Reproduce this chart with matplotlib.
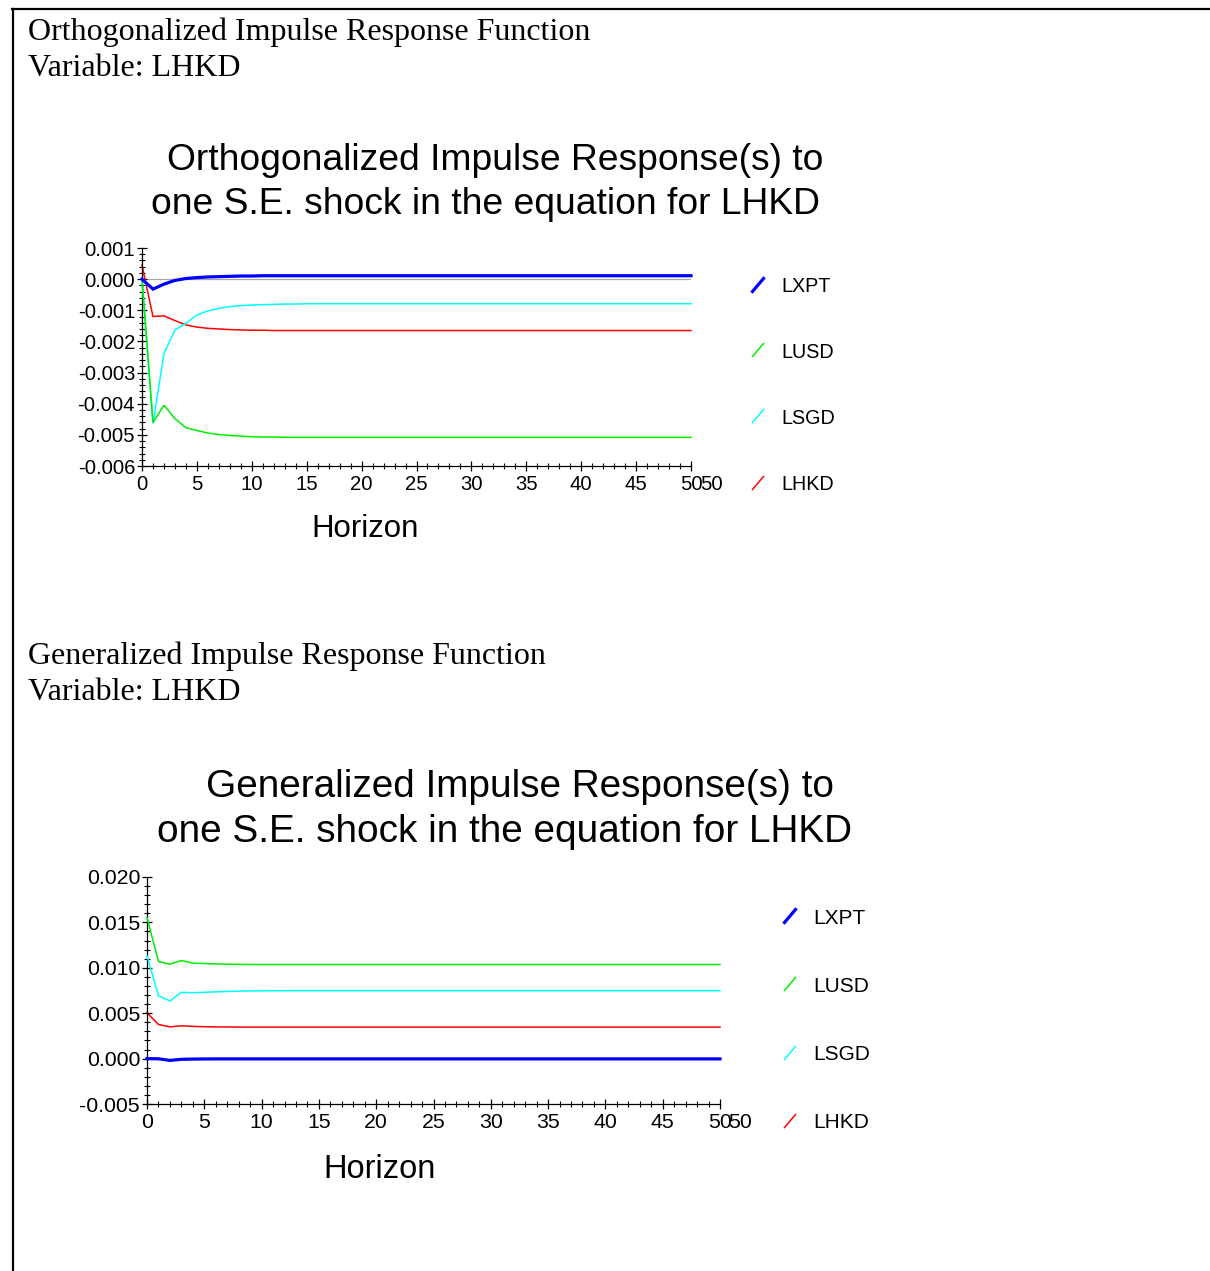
import matplotlib
matplotlib.use("Agg")
import matplotlib.pyplot as plt
from matplotlib.ticker import MultipleLocator, FormatStrFormatter
from matplotlib.lines import Line2D
from matplotlib.transforms import offset_copy

# ---------------------------------------------------------------- data
horizon = list(range(51))
series_names = ["LXPT", "LUSD", "LSGD", "LHKD"]
series_colors = ["#0000ff", "#00ee00", "#00ffff", "#ff0000"]
series_widths = [2.3, 1.1, 1.1, 1.1]

orth_lxpt = [0.0, -0.00032, -0.00016, -0.00004, 0.00002, 0.00005, 0.00007, 0.00008, 0.00009, 0.00010,
             0.00010, 0.00011, 0.00011, 0.00011, 0.00011, 0.00011, 0.00011, 0.00011, 0.00011, 0.00011,
             0.00011, 0.00011, 0.00011, 0.00011, 0.00011, 0.00011, 0.00011, 0.00011, 0.00011, 0.00011,
             0.00011, 0.00011, 0.00011, 0.00011, 0.00011, 0.00011, 0.00011, 0.00011, 0.00011, 0.00011,
             0.00011, 0.00011, 0.00011, 0.00011, 0.00011, 0.00011, 0.00011, 0.00011, 0.00011, 0.00011,
             0.00011]
orth_lusd = [0.0, -0.00460, -0.00405, -0.00448, -0.00477, -0.00486, -0.00494, -0.00499, -0.00502, -0.00504,
             -0.00506, -0.00507, -0.00507, -0.00508, -0.00508, -0.00508, -0.00508, -0.00508, -0.00508, -0.00508,
             -0.00508, -0.00508, -0.00508, -0.00508, -0.00508, -0.00508, -0.00508, -0.00508, -0.00508, -0.00508,
             -0.00508, -0.00508, -0.00508, -0.00508, -0.00508, -0.00508, -0.00508, -0.00508, -0.00508, -0.00508,
             -0.00508, -0.00508, -0.00508, -0.00508, -0.00508, -0.00508, -0.00508, -0.00508, -0.00508, -0.00508,
             -0.00508]
orth_lsgd = [0.0, -0.00464, -0.00239, -0.00163, -0.00142, -0.00115, -0.00102, -0.00094, -0.00088, -0.00085,
             -0.00083, -0.00082, -0.00081, -0.00080, -0.00080, -0.00079, -0.00079, -0.00079, -0.00079, -0.00079,
             -0.00079, -0.00079, -0.00079, -0.00079, -0.00079, -0.00079, -0.00079, -0.00079, -0.00079, -0.00079,
             -0.00079, -0.00079, -0.00079, -0.00079, -0.00079, -0.00079, -0.00079, -0.00079, -0.00079, -0.00079,
             -0.00079, -0.00079, -0.00079, -0.00079, -0.00079, -0.00079, -0.00079, -0.00079, -0.00079, -0.00079,
             -0.00079]
orth_lhkd = [0.00045, -0.00120, -0.00118, -0.00133, -0.00147, -0.00154, -0.00158, -0.00160, -0.00162, -0.00163,
             -0.00164, -0.00164, -0.00165, -0.00165, -0.00165, -0.00165, -0.00165, -0.00165, -0.00165, -0.00165,
             -0.00165, -0.00165, -0.00165, -0.00165, -0.00165, -0.00165, -0.00165, -0.00165, -0.00165, -0.00165,
             -0.00165, -0.00165, -0.00165, -0.00165, -0.00165, -0.00165, -0.00165, -0.00165, -0.00165, -0.00165,
             -0.00165, -0.00165, -0.00165, -0.00165, -0.00165, -0.00165, -0.00165, -0.00165, -0.00165, -0.00165,
             -0.00165]

gen_lxpt = [0.0, -0.00002, -0.00020, -0.00008, -0.00005, -0.00004, -0.00003, -0.00003, -0.00003, -0.00003,
            -0.00003, -0.00003, -0.00003, -0.00003, -0.00003, -0.00003, -0.00003, -0.00003, -0.00003, -0.00003,
            -0.00003, -0.00003, -0.00003, -0.00003, -0.00003, -0.00003, -0.00003, -0.00003, -0.00003, -0.00003,
            -0.00003, -0.00003, -0.00003, -0.00003, -0.00003, -0.00003, -0.00003, -0.00003, -0.00003, -0.00003,
            -0.00003, -0.00003, -0.00003, -0.00003, -0.00003, -0.00003, -0.00003, -0.00003, -0.00003, -0.00003,
            -0.00003]
gen_lusd = [0.01553, 0.01069, 0.01040, 0.01080, 0.01051, 0.01047, 0.01043, 0.01040, 0.01038, 0.01037,
            0.01036, 0.01036, 0.01036, 0.01036, 0.01036, 0.01036, 0.01036, 0.01036, 0.01036, 0.01036,
            0.01036, 0.01036, 0.01036, 0.01036, 0.01036, 0.01036, 0.01036, 0.01036, 0.01036, 0.01036,
            0.01036, 0.01036, 0.01036, 0.01036, 0.01036, 0.01036, 0.01036, 0.01036, 0.01036, 0.01036,
            0.01036, 0.01036, 0.01036, 0.01036, 0.01036, 0.01036, 0.01036, 0.01036, 0.01036, 0.01036,
            0.01036]
gen_lsgd = [0.01132, 0.00693, 0.00635, 0.00730, 0.00726, 0.00730, 0.00735, 0.00740, 0.00743, 0.00745,
            0.00746, 0.00747, 0.00748, 0.00748, 0.00748, 0.00748, 0.00748, 0.00748, 0.00748, 0.00748,
            0.00748, 0.00748, 0.00748, 0.00748, 0.00748, 0.00748, 0.00748, 0.00748, 0.00748, 0.00748,
            0.00748, 0.00748, 0.00748, 0.00748, 0.00748, 0.00748, 0.00748, 0.00748, 0.00748, 0.00748,
            0.00748, 0.00748, 0.00748, 0.00748, 0.00748, 0.00748, 0.00748, 0.00748, 0.00748, 0.00748,
            0.00748]
gen_lhkd = [0.00504, 0.00376, 0.00350, 0.00361, 0.00355, 0.00351, 0.00349, 0.00348, 0.00347, 0.00347,
            0.00347, 0.00347, 0.00347, 0.00347, 0.00347, 0.00347, 0.00347, 0.00347, 0.00347, 0.00347,
            0.00347, 0.00347, 0.00347, 0.00347, 0.00347, 0.00347, 0.00347, 0.00347, 0.00347, 0.00347,
            0.00347, 0.00347, 0.00347, 0.00347, 0.00347, 0.00347, 0.00347, 0.00347, 0.00347, 0.00347,
            0.00347, 0.00347, 0.00347, 0.00347, 0.00347, 0.00347, 0.00347, 0.00347, 0.00347, 0.00347,
            0.00347]

x_ticks = [0, 5, 10, 15, 20, 25, 30, 35, 40, 45, 50]
orth_y_ticks = [-0.006, -0.005, -0.004, -0.003, -0.002, -0.001, 0.000, 0.001]
gen_y_ticks = [-0.005, 0.000, 0.005, 0.010, 0.015, 0.020]

# ---------------------------------------------------------------- figure
W, H, DPI = 1210, 1271, 100
plt.rcParams["font.family"] = ["Liberation Sans", "DejaVu Sans"]
plt.rcParams["axes.unicode_minus"] = False

fig = plt.figure(figsize=(W / DPI, H / DPI), dpi=DPI)
fig.patch.set_facecolor("white")


def fx(x):
    return x / W


def fy(y):
    return 1 - y / H


# page frame (top rule and left rule)
fig.add_artist(Line2D([fx(12), fx(1210)], [fy(9), fy(9)], color="black", lw=1.6))
fig.add_artist(Line2D([fx(13), fx(13)], [fy(9), fy(1271)], color="black", lw=1.6))

serif = ["Liberation Serif", "DejaVu Serif"]


def header(y1, y2, line1, line2):
    fig.text(fx(28), fy(y1), line1, family=serif, fontsize=23, va="center", ha="left")
    fig.text(fx(28), fy(y2), line2, family=serif, fontsize=23, va="center", ha="left")


def irf_panel(box, ylim, yticks, yminor, series, tick_fs, title_lines, title_fs,
              xlabel_pos, xlabel_fs, legend_x, legend_ys, legend_fs):
    x0, x1, ytop, ybot = box
    ax = fig.add_axes([fx(x0), fy(ybot), (x1 - x0) / W, (ybot - ytop) / H])
    ax.set_xlim(0, 50)
    ax.set_ylim(*ylim)
    ax.patch.set_alpha(0)
    for side in ("top", "right"):
        ax.spines[side].set_visible(False)
    for side in ("left", "bottom"):
        ax.spines[side].set_linewidth(0.9)

    ax.axhline(0, xmin=0, xmax=1, color="#a8a8a8", lw=0.9, zorder=1)
    order = [3, 2, 1, 0]
    for i in order:
        ax.plot(horizon, series[i], color=series_colors[i], lw=series_widths[i],
                zorder=2 + (3 - i), solid_joinstyle="miter", clip_on=False)

    ax.set_xticks(x_ticks)
    ax.set_xticklabels([str(t) for t in x_ticks])
    ax.xaxis.set_minor_locator(MultipleLocator(1))
    ax.set_yticks(yticks)
    ax.yaxis.set_major_formatter(FormatStrFormatter("%.3f"))
    ax.yaxis.set_minor_locator(MultipleLocator(yminor))
    xpad = 3.0
    ax.tick_params(which="major", direction="inout", length=7, width=0.9,
                   labelsize=tick_fs, color="black")
    ax.tick_params(which="minor", direction="inout", length=4, width=0.8, color="black")
    ax.tick_params(axis="y", which="major", pad=1.5)
    ax.tick_params(axis="x", which="major", pad=xpad)

    # second "50" label printed just right of the last tick label
    trans = offset_copy(ax.get_xaxis_transform(), fig=fig, x=20, y=-(xpad + 3.5) * DPI / 72,
                        units="dots")
    ax.text(50, 0, "50", transform=trans, ha="center", va="top", fontsize=tick_fs)

    for (cx, cy, text) in title_lines:
        fig.text(fx(cx), fy(cy), text, ha="center", va="center", fontsize=title_fs)

    fig.text(fx(xlabel_pos[0]), fy(xlabel_pos[1]), "Horizon", ha="center", va="center",
             fontsize=xlabel_fs)

    for i, ly in enumerate(legend_ys):
        fig.add_artist(Line2D([fx(legend_x - 5.5), fx(legend_x + 5.5)],
                              [fy(ly + 6.5), fy(ly - 6.5)],
                              color=series_colors[i], lw=series_widths[i]))
        fig.text(fx(legend_x + 23), fy(ly + 2), series_names[i], ha="left", va="center",
                 fontsize=legend_fs)
    return ax


header(32, 69, "Orthogonalized Impulse Response Function", "Variable: LHKD")
irf_panel(box=(142, 691, 248, 466), ylim=(-0.006, 0.001), yticks=orth_y_ticks, yminor=0.0002,
          series=[orth_lxpt, orth_lusd, orth_lsgd, orth_lhkd], tick_fs=14.6,
          title_lines=[(495.5, 161, "Orthogonalized Impulse Response(s) to"),
                       (486, 204, "one S.E. shock in the equation for LHKD")],
          title_fs=26.8, xlabel_pos=(365, 529), xlabel_fs=22.5,
          legend_x=758, legend_ys=[285, 350, 416, 483], legend_fs=14.2)

header(656, 692, "Generalized Impulse Response Function", "Variable: LHKD")
irf_panel(box=(147, 720, 877, 1104), ylim=(-0.005, 0.020), yticks=gen_y_ticks, yminor=0.001,
          series=[gen_lxpt, gen_lusd, gen_lsgd, gen_lhkd], tick_fs=15.3,
          title_lines=[(520, 787, "Generalized Impulse Response(s) to"),
                       (504.5, 832, "one S.E. shock in the equation for LHKD")],
          title_fs=27.9, xlabel_pos=(379.5, 1169), xlabel_fs=23.5,
          legend_x=790, legend_ys=[916, 984, 1053, 1121], legend_fs=15.0)

fig.savefig("out.png", dpi=DPI, facecolor="white")
